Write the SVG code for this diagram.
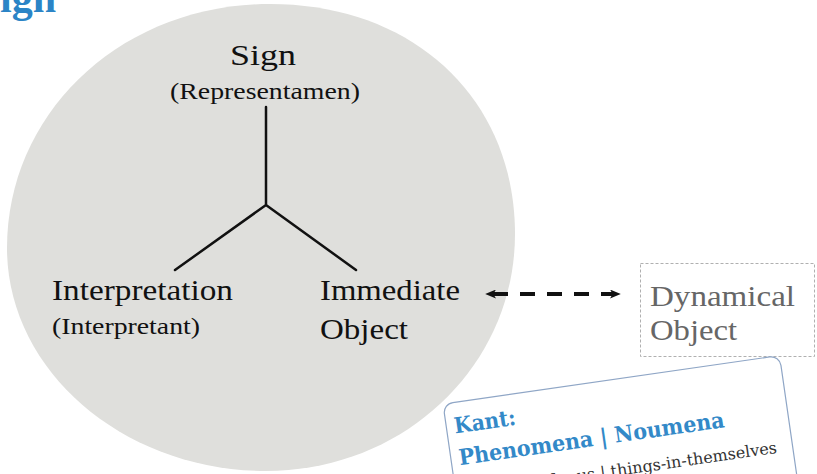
<svg xmlns="http://www.w3.org/2000/svg" width="817" height="474" viewBox="0 0 817 474">
  <style>
    .label { font-family: "Liberation Serif", "Times New Roman", Times, serif; font-size: 30px; fill: #111; }
    .sub { font-family: "Liberation Serif", "Times New Roman", Times, serif; font-size: 24px; fill: #111; }
    .muted { fill: #666; }
    .tree { fill: none; stroke: #111; stroke-width: 2.5; stroke-linecap: round; }
    .title { font-family: "Liberation Serif", "Times New Roman", serif; font-weight: bold; fill: #2b84c6; }
    .card-head { font-family: "DejaVu Serif", "Liberation Serif", serif; font-weight: bold; fill: #3389c8; font-size: 22px; }
    .card-body { font-family: "DejaVu Serif", "Liberation Serif", serif; fill: #333; font-size: 16px; }
  </style>
  <defs>
    <marker id="head" viewBox="0 0 12 10" refX="10" refY="5" markerWidth="11" markerHeight="9" markerUnits="userSpaceOnUse" orient="auto-start-reverse">
      <path d="M0 0 L12 5 L0 10 L3 5 Z" fill="#111"/>
    </marker>
  </defs>

  <rect width="817" height="474" fill="#fff"/>

  <!-- heading, partly outside the frame -->
  <text class="title" x="56" y="12" font-size="42" text-anchor="end">Sign</text>

  <!-- grey field holding the triad -->
  <path id="field" d="M 270 4 C 415 4, 515 100, 515 234 C 515 365, 405 471, 266 471 C 124 471, 7 371, 7 248 C 7 112, 122 4, 270 4 Z" fill="#dfdfdc"/>

  <!-- connectors -->
  <g id="connectors">
    <path class="tree" d="M266 107 L266 205 M266 205 L175 270 M266 205 L356 270"/>
    <line x1="487" y1="294" x2="619" y2="294" stroke="#111" stroke-width="4" stroke-dasharray="15 12" stroke-dashoffset="-6" marker-start="url(#head)" marker-end="url(#head)"/>
  </g>

  <g id="sign" font-family="Liberation Serif, serif">
    <text class="label" x="263" y="65" text-anchor="middle" font-size="34" textLength="66" lengthAdjust="spacingAndGlyphs">Sign</text>
    <text class="sub" x="265" y="99" text-anchor="middle" textLength="190" lengthAdjust="spacingAndGlyphs">(Representamen)</text>
  </g>

  <g id="interpretant" font-family="Liberation Serif, serif">
    <text class="label" x="52" y="300" textLength="181" lengthAdjust="spacingAndGlyphs">Interpretation</text>
    <text class="sub" x="52" y="334" font-size="23" textLength="148" lengthAdjust="spacingAndGlyphs">(Interpretant)</text>
  </g>

  <g id="immediate-object" font-family="Liberation Serif, serif">
    <text class="label" x="320" y="300" textLength="140" lengthAdjust="spacingAndGlyphs">Immediate</text>
    <text class="label" x="320" y="339" textLength="88" lengthAdjust="spacingAndGlyphs">Object</text>
  </g>

  <g id="dynamical-object" font-family="Liberation Serif, serif">
    <rect x="640.5" y="263.5" width="174" height="93" fill="none" stroke="#b0b0b0" stroke-width="1" stroke-dasharray="3 2"/>
    <text class="label muted" x="650" y="306" font-size="31" textLength="145" lengthAdjust="spacingAndGlyphs">Dynamical</text>
    <text class="label muted" x="650" y="340" font-size="31" textLength="87" lengthAdjust="spacingAndGlyphs">Object</text>
  </g>

  <!-- tilted note card -->
  <g id="kant-card" transform="translate(443 404) rotate(-8.2)">
    <rect x="0" y="0" width="340" height="130" rx="10" fill="#fff" stroke="#8fa6c6" stroke-width="1.2"/>
    <text class="card-head" x="8" y="31" textLength="62" lengthAdjust="spacingAndGlyphs">Kant:</text>
    <text class="card-head" x="8" y="63" textLength="268" lengthAdjust="spacingAndGlyphs">Phenomena | Noumena</text>
    <text class="card-body" x="324" y="96" text-anchor="end">things for us | things-in-themselves</text>
  </g>
</svg>
